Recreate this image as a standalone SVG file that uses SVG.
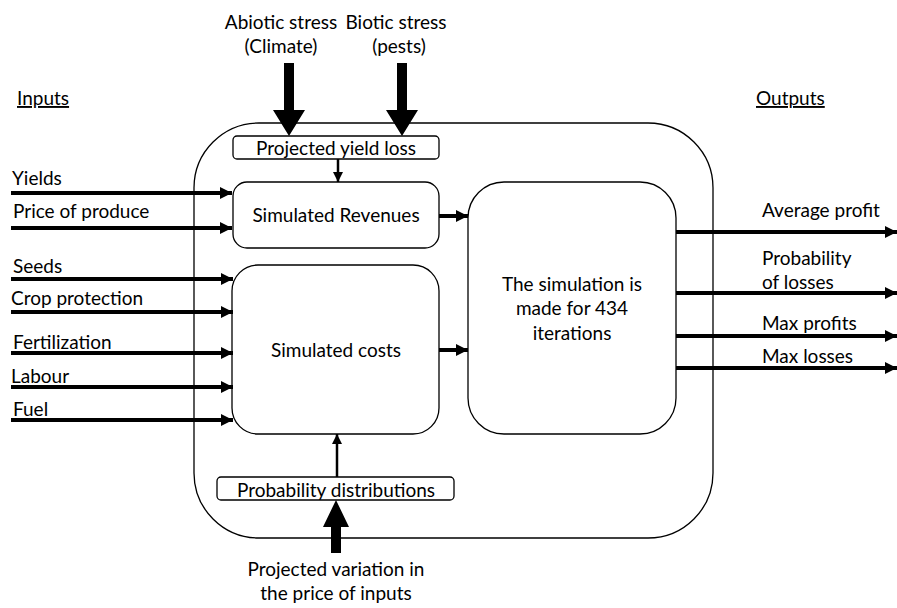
<svg xmlns="http://www.w3.org/2000/svg" width="897" height="608" viewBox="0 0 897 608">
  <style>
    text { font-family: Lato, "Liberation Sans", sans-serif; font-size: 19px; fill: #000; }
    .box { fill: #fff; stroke: #000; stroke-width: 1.3; }
    .c { text-anchor: middle; }
    .flow { stroke: #000; stroke-width: 4; fill: none; }
    .thin { stroke: #000; stroke-width: 2.5; fill: none; }
    .big { fill: #000; }
  </style>
  <defs>
    <marker id="head" markerUnits="userSpaceOnUse" markerWidth="14" markerHeight="14" refX="12" refY="7" orient="auto">
      <path d="M0,1 L12,7 L0,13 Z" fill="#000"/>
    </marker>
    <marker id="headSmall" markerUnits="userSpaceOnUse" markerWidth="12" markerHeight="12" refX="10" refY="6" orient="auto">
      <path d="M0,1 L10,6 L0,11 Z" fill="#000"/>
    </marker>
  </defs>

  <!-- section headings -->
  <text x="17" y="105" text-decoration="underline">Inputs</text>
  <text x="756" y="105" text-decoration="underline">Outputs</text>

  <!-- enclosing model boundary -->
  <rect id="model" x="194" y="123" width="519" height="415" rx="65" ry="65" fill="none" stroke="#000" stroke-width="1.3"/>

  <!-- stress sources -->
  <g id="abiotic">
    <text x="281" y="29" class="c">Abiotic stress</text>
    <text x="281" y="53" class="c">(Climate)</text>
  </g>
  <g id="biotic">
    <text x="396" y="29" class="c">Biotic stress</text>
    <text x="399" y="53" class="c">(pests)</text>
  </g>

  <g id="yield-loss">
    <rect class="box" x="233" y="136" width="206" height="23" rx="4"/>
    <text x="336" y="155" class="c">Projected yield loss</text>
  </g>

  <g id="revenues">
    <rect class="box" x="233" y="182" width="206" height="66" rx="14"/>
    <text x="336" y="222" class="c">Simulated Revenues</text>
  </g>

  <g id="costs">
    <rect class="box" x="232" y="265" width="207" height="169" rx="26"/>
    <text x="336" y="357" class="c">Simulated costs</text>
  </g>

  <g id="simulation">
    <rect class="box" x="468" y="182" width="208" height="252" rx="36"/>
    <text x="572" y="291" class="c">The simulation is</text>
    <text x="572" y="315" class="c">made for 434</text>
    <text x="572" y="340" class="c">iterations</text>
  </g>

  <g id="distributions">
    <rect class="box" x="217" y="477" width="237" height="23" rx="4"/>
    <text x="336" y="497" class="c">Probability distributions</text>
  </g>

  <g id="price-variation">
    <text x="336" y="576" class="c">Projected variation in</text>
    <text x="336" y="600" class="c">the price of inputs</text>
  </g>

  <!-- input labels -->
  <g id="inputs">
    <text x="12" y="185">Yields</text>
    <text x="13" y="218">Price of produce</text>
    <text x="13" y="273">Seeds</text>
    <text x="11" y="305">Crop protection</text>
    <text x="13" y="349">Fertilization</text>
    <text x="11" y="383">Labour</text>
    <text x="13" y="416">Fuel</text>
  </g>

  <!-- output labels -->
  <g id="outputs">
    <text x="762" y="217">Average profit</text>
    <text x="762" y="265">Probability</text>
    <text x="762" y="289">of losses</text>
    <text x="762" y="330">Max profits</text>
    <text x="762" y="363">Max losses</text>
  </g>

  <g id="connectors">
    <!-- heavy stress arrows -->
    <polygon class="big" points="284,63 294,63 294,110 305,110 289,136 273,110 284,110"/>
    <polygon class="big" points="397,63 407,63 407,110 418,110 402,136 386,110 397,110"/>
    <polygon class="big" points="331,553 341,553 341,527 349,527 336,500 323,527 331,527"/>

    <!-- internal links -->
    <line class="thin" x1="338" y1="159" x2="338" y2="182" marker-end="url(#headSmall)"/>
    <line class="thin" x1="337" y1="477" x2="337" y2="434" marker-end="url(#headSmall)"/>
    <line class="flow" x1="439" y1="216" x2="468" y2="216" marker-end="url(#head)"/>
    <line class="flow" x1="439" y1="350" x2="468" y2="350" marker-end="url(#head)"/>

    <!-- inputs -->
    <line class="flow" x1="11" y1="193" x2="232" y2="193" marker-end="url(#head)"/>
    <line class="flow" x1="11" y1="228" x2="232" y2="228" marker-end="url(#head)"/>
    <line class="flow" x1="11" y1="279" x2="233" y2="279" marker-end="url(#head)"/>
    <line class="flow" x1="11" y1="312" x2="233" y2="312" marker-end="url(#head)"/>
    <line class="flow" x1="11" y1="353" x2="233" y2="353" marker-end="url(#head)"/>
    <line class="flow" x1="11" y1="387" x2="233" y2="387" marker-end="url(#head)"/>
    <line class="flow" x1="11" y1="420" x2="233" y2="420" marker-end="url(#head)"/>

    <!-- outputs -->
    <line class="flow" x1="676" y1="232" x2="897" y2="232" marker-end="url(#head)"/>
    <line class="flow" x1="676" y1="293" x2="897" y2="293" marker-end="url(#head)"/>
    <line class="flow" x1="676" y1="336" x2="897" y2="336" marker-end="url(#head)"/>
    <line class="flow" x1="676" y1="368" x2="897" y2="368" marker-end="url(#head)"/>
  </g>
</svg>
